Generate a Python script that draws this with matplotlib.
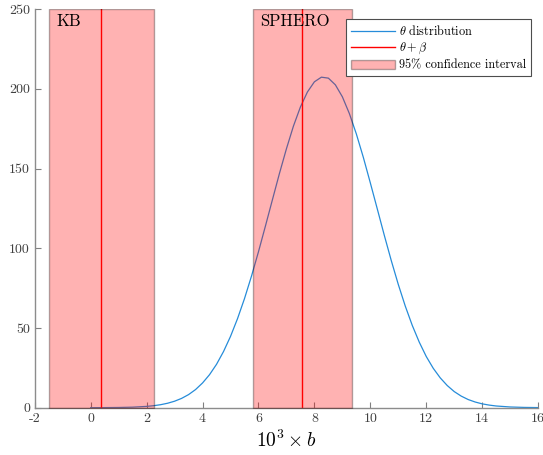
import matplotlib
matplotlib.use("Agg")
import matplotlib.pyplot as plt

# Distribution curve
x_dist = [0, 0.5, 1, 1.5, 2, 2.25, 2.5, 2.75, 3, 3.25, 3.5, 3.75, 4, 4.25, 4.5, 4.75,
          5, 5.25, 5.5, 5.75, 6, 6.25, 6.5, 6.75, 7, 7.25, 7.5, 7.75, 8, 8.25, 8.5,
          8.75, 9, 9.25, 9.5, 9.75, 10, 10.25, 10.5, 10.75, 11, 11.25, 11.5, 11.75,
          12, 12.25, 12.5, 12.75, 13, 13.25, 13.5, 13.75, 14, 14.25, 14.5, 15, 15.5, 16]
y_dist = [0.01, 0.04, 0.12, 0.32, 0.81, 1.24, 1.87, 2.78, 4.06, 5.82, 8.2, 11.36, 15.5,
          20.7, 27.2, 35.2, 44.7, 55.8, 68.4, 82.5, 97.8, 114.0, 130.5, 146.9, 162.4,
          176.6, 188.6, 198.0, 204.4, 207.3, 206.7, 202.5, 195.0, 184.5, 171.7, 157.0,
          141.0, 124.6, 108.1, 92.2, 77.3, 63.7, 51.6, 41.1, 32.1, 24.7, 18.7, 13.9,
          10.1, 7.26, 5.1, 3.55, 2.4, 1.62, 1.06, 0.44, 0.17, 0.06]

# theta + beta estimates and 95% intervals
labels = ["KB", "SPHERO"]
centers = [0.38, 7.57]
ci_low = [-1.50, 5.79]
ci_high = [2.27, 9.35]

xticks = [-2, 0, 2, 4, 6, 8, 10, 12, 14, 16]
yticks = [0, 50, 100, 150, 200, 250]

plt.rcParams["font.family"] = "serif"
plt.rcParams["font.serif"] = ["cmr10", "DejaVu Serif"]
plt.rcParams["mathtext.fontset"] = "cm"
plt.rcParams["axes.formatter.use_mathtext"] = True

fig = plt.figure(figsize=(5.43, 4.55), dpi=100)
ax = fig.add_axes([0.064, 0.104, 0.927, 0.876])

ax.plot(x_dist, y_dist, color=(0.15, 0.55, 0.85), lw=0.9, label=r"$\theta$ distribution", zorder=2)
for i, c in enumerate(centers):
    ax.plot([c, c], [0, 250], color="red", lw=1.0, zorder=2,
            label=r"$\theta+\beta$" if i == 0 else None)
for i, (lo, hi) in enumerate(zip(ci_low, ci_high)):
    ax.fill_between([lo, hi], [0, 0], [250, 250], facecolor=(1, 0, 0, 0.3),
                    edgecolor=(0, 0, 0, 0.3), lw=1.0, zorder=3,
                    label="95% confidence interval" if i == 0 else None)
for name, lo in zip(labels, ci_low):
    ax.text(lo + 0.28, 247, name, fontsize=12, va="top", ha="left", zorder=4)

ax.set_xlim(-2, 16)
ax.set_ylim(0, 250)
ax.set_xticks(xticks)
ax.set_xticklabels([str(t) for t in xticks])
ax.set_yticks(yticks)
ax.set_yticklabels([str(t) for t in yticks])
ax.tick_params(direction="in", length=4, width=0.8, colors=(0.5, 0.5, 0.5),
               labelcolor=(0.25, 0.25, 0.25), labelsize=10)
for side in ["top", "right"]:
    ax.spines[side].set_visible(False)
for side in ["left", "bottom"]:
    ax.spines[side].set_color((0.55, 0.55, 0.55))
    ax.spines[side].set_linewidth(1.0)

ax.set_xlabel(r"$10^3 \times b$", fontsize=14, labelpad=4)

leg = ax.legend(loc="upper right", bbox_to_anchor=(0.978, 0.958),
                bbox_transform=fig.transFigure, fontsize=8.8, fancybox=False,
                framealpha=1, edgecolor=(0.3, 0.3, 0.3), handlelength=3.6,
                handletextpad=0.35, borderpad=0.4, labelspacing=0.25,
                borderaxespad=0)
leg.get_frame().set_linewidth(0.8)
leg.set_zorder(5)

fig.savefig("out.png", dpi=100)
